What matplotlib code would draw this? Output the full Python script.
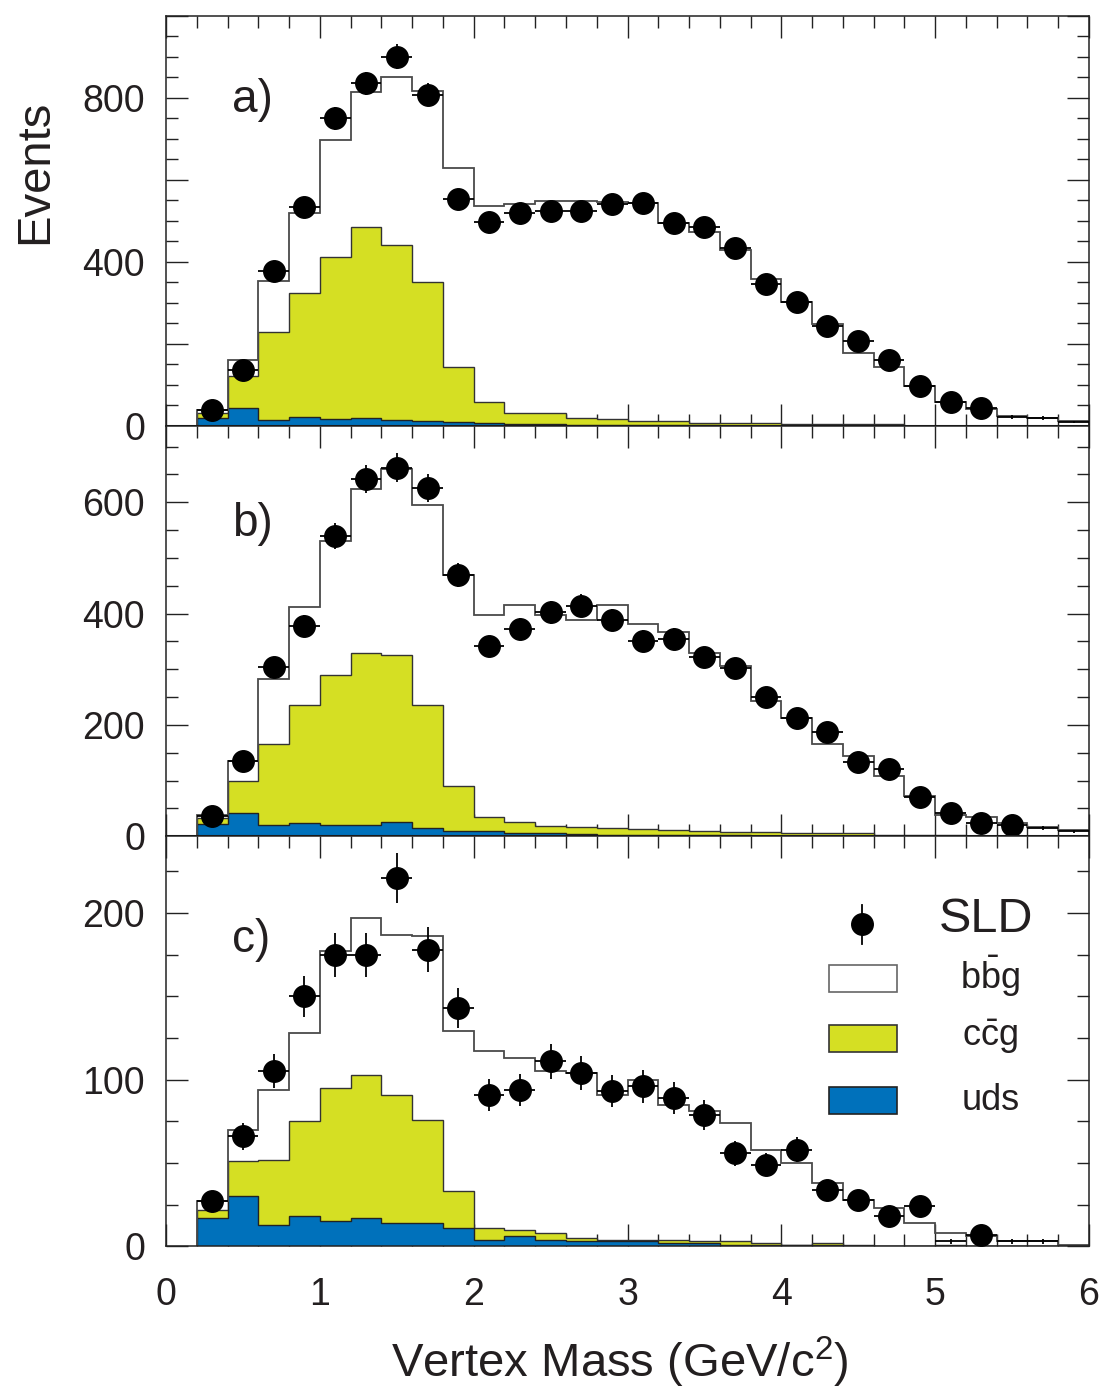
import numpy as np
import matplotlib
matplotlib.use("Agg")
import matplotlib.pyplot as plt
from matplotlib.ticker import MultipleLocator, FuncFormatter
from matplotlib.patches import Rectangle

plt.rcParams['font.family'] = ['Liberation Sans', 'DejaVu Sans']
plt.rcParams['mathtext.fontset'] = 'custom'
plt.rcParams['mathtext.rm'] = 'Liberation Sans'
plt.rcParams['mathtext.it'] = 'Liberation Sans:italic'
plt.rcParams['mathtext.bf'] = 'Liberation Sans:bold'

# Vertex-mass binning: 29 bins of 0.2 GeV/c^2 from 0.2 to 6.0
bin_edges = np.linspace(0.2, 6.0, 30)
bin_centers = 0.5 * (bin_edges[:-1] + bin_edges[1:])

# ---- panel a) ----
bbg_a = [9, 40, 125, 196, 286, 330, 410, 465, 486, 477, 509, 517, 529, 529, 532,
         484, 466, 421, 351, 296, 243, 174, 138, 97, 59, 41, 25, 19, 13]
ccg_a = [11, 77, 213, 303, 394, 466, 425, 339, 134, 52, 26, 27, 16, 14, 10,
         10, 6, 6, 6, 5, 4, 4, 4, 1, 0, 0, 0, 0, 0]
uds_a = [20, 45, 15, 21, 18, 19, 15, 12, 9, 7, 5, 4, 3, 3, 2,
         2, 2, 1, 1, 1, 1, 1, 1, 0, 0, 0, 0, 0, 0]
data_a = [40, 136, 377, 533, 750, 835, 900, 808, 554, 497, 520, 524, 523, 542, 544,
          496, 485, 434, 347, 302, 243, 208, 162, 98, 58, 43, 22, 20, 10]
bare_a = [26, 27, 28]          # bins drawn as crosses only

# ---- panel b) ----
bbg_b = [7, 37, 117, 176, 240, 294, 335, 360, 379, 363, 390, 379, 372, 401, 369,
         356, 321, 298, 236, 207, 160, 140, 106, 71, 37, 34, 22, 16, 10]
ccg_b = [10, 57, 144, 211, 269, 309, 299, 220, 81, 24, 20, 13, 13, 11, 10,
         9, 7, 6, 6, 4, 4, 4, 3, 2, 2, 1, 1, 1, 1]
uds_b = [22, 42, 21, 24, 21, 21, 26, 15, 10, 10, 6, 5, 4, 3, 3,
         2, 2, 2, 1, 1, 1, 1, 0, 0, 0, 0, 0, 0, 0]
data_b = [37, 136, 304, 378, 539, 642, 662, 626, 469, 342, 373, 402, 414, 388, 351,
          355, 322, 302, 251, 212, 187, 134, 121, 70, 41, 23, 20, 15, 9]
bare_b = [27, 28]

# ---- panel c) ----
bbg_c = [5, 19, 42, 53, 82, 94, 96, 110, 96, 106, 103, 97, 99, 87, 96,
         81, 78, 71, 56, 49, 36, 27, 23, 14, 7, 6, 3, 3, 1]
ccg_c = [5, 21, 39, 57, 80, 86, 77, 62, 22, 7, 4, 4, 2, 1, 1,
         2, 1, 2, 1, 0, 1, 1, 0, 0, 1, 0, 0, 0, 0]
uds_c = [17, 30, 13, 18, 15, 17, 14, 14, 11, 4, 6, 4, 3, 3, 3,
         2, 2, 1, 1, 1, 1, 0, 0, 0, 0, 0, 0, 0, 0]
data_c = [27, 66, 105, 150, 175, 175, 221, 178, 143, 91, 94, 111, 104, 93, 96,
          89, 79, 56, 49, 58, 34, 28, 18, 24, 3, 7, 3, 3, np.nan]
bare_c = [24, 26, 27]

YELLOW = '#d5df23'
BLUE = '#0071bb'
TEXT = '#231f20'

fig = plt.figure(figsize=(11.04, 13.93), dpi=100)
gs = fig.add_gridspec(3, 1, left=0.1504, right=0.9864, top=0.9887,
                      bottom=0.1052, hspace=0)
axes = [fig.add_subplot(gs[i]) for i in range(3)]


def draw_panel(ax, bbg, ccg, uds, data, bare, ytop, major, minor, label_step, tag,
               zero_line=True):
    bbg, ccg, uds = (np.asarray(v, float) for v in (bbg, ccg, uds))
    data = np.asarray(data, float)
    c_top = uds + ccg
    total = c_top + bbg

    ax.stairs(c_top, bin_edges, baseline=0, fill=True, facecolor=YELLOW,
              edgecolor='#333333', linewidth=1.0, zorder=1)
    ax.stairs(uds, bin_edges, baseline=0, fill=True, facecolor=BLUE,
              edgecolor='#222222', linewidth=1.0, zorder=1.1)
    ax.stairs(total, bin_edges, baseline=0, fill=False, color='#4a4a4a',
              linewidth=1.3, zorder=1.5)

    valid = ~np.isnan(data)
    is_bare = np.zeros(len(data), bool)
    is_bare[bare] = True
    dots = valid & ~is_bare
    crosses = valid & is_bare
    ax.errorbar(bin_centers[dots], data[dots], xerr=0.1, yerr=np.sqrt(data[dots]),
                fmt='o', ms=15.5, color='black', elinewidth=1.3, capsize=0, zorder=5)
    ax.errorbar(bin_centers[crosses], data[crosses], xerr=0.1,
                yerr=np.sqrt(data[crosses]), fmt='none', ecolor='black',
                elinewidth=1.3, capsize=0, zorder=5)

    if zero_line:
        ax.axhline(0, color='black', lw=2.2, zorder=4)

    ax.set_xlim(0, 6)
    ax.set_ylim(0, ytop)
    ax.set_axisbelow(True)
    ax.xaxis.set_major_locator(MultipleLocator(1))
    ax.xaxis.set_minor_locator(MultipleLocator(0.2))
    ax.yaxis.set_major_locator(MultipleLocator(major))
    ax.yaxis.set_minor_locator(MultipleLocator(minor))
    ax.yaxis.set_major_formatter(FuncFormatter(
        lambda v, p: f"{v:.0f}" if abs(v / label_step - round(v / label_step)) < 1e-6 else ""))
    ax.tick_params(which='both', direction='in', top=True, right=True,
                   labelsize=27, labelcolor=TEXT, color='#222222')
    ax.tick_params(which='major', length=16, width=1.0)
    ax.tick_params(which='minor', length=8.5, width=1.0)
    ax.tick_params(axis='y', pad=15)
    ax.tick_params(axis='x', pad=22)
    for s in ax.spines.values():
        s.set_linewidth(1.1)
        s.set_color('#222222')
    ax.text(0.0715, tag[1], tag[0], transform=ax.transAxes, fontsize=33,
            color=TEXT, ha='left', va='center')


draw_panel(axes[0], bbg_a, ccg_a, uds_a, data_a, bare_a, 1000, 200, 50, 400, ('a)', 0.794))
draw_panel(axes[1], bbg_b, ccg_b, uds_b, data_b, bare_b, 737, 200, 50, 200, ('b)', 0.760))
draw_panel(axes[2], bbg_c, ccg_c, uds_c, data_c, bare_c, 246, 100, 25, 100, ('c)', 0.748),
           zero_line=False)

for ax in axes[:2]:
    ax.tick_params(labelbottom=False)

# Legend inside panel c)
axc = axes[2]
tr = axc.transAxes
axc.plot([0.754, 0.754], [0.738, 0.833], color='black', lw=1.3, transform=tr,
         zorder=6, clip_on=False)
axc.plot([0.754], [0.787], 'o', ms=15.5, color='black', transform=tr, zorder=6)
axc.text(0.889, 0.796, 'SLD', transform=tr, fontsize=35, color=TEXT,
         ha='center', va='center')
legend_rows = [
    ('white', '#666666', r'$\mathrm{b\bar{b}g}$', 0.621, 0.660),
    (YELLOW, '#333333', r'$\mathrm{c\bar{c}g}$', 0.474, 0.511),
    (BLUE, '#222222', 'uds', 0.323, 0.357),
]
for face, edge, label, y0, ylab in legend_rows:
    axc.add_patch(Rectangle((0.718, y0), 0.074, 0.066, transform=tr,
                            facecolor=face, edgecolor=edge, lw=1.2, zorder=6))
    axc.text(0.893, ylab, label, transform=tr, fontsize=26, color=TEXT,
             ha='center', va='center')

fig.text(35 / 1104, 1 - 172 / 1393, 'Events', rotation=90, fontsize=34,
         color=TEXT, ha='center', va='center')
fig.text(620 / 1104, 1 - 1362 / 1393, r'Vertex Mass (GeV/c$^{2}$)', fontsize=34,
         color=TEXT, ha='center', va='center')

fig.savefig('out.png', dpi=100)
